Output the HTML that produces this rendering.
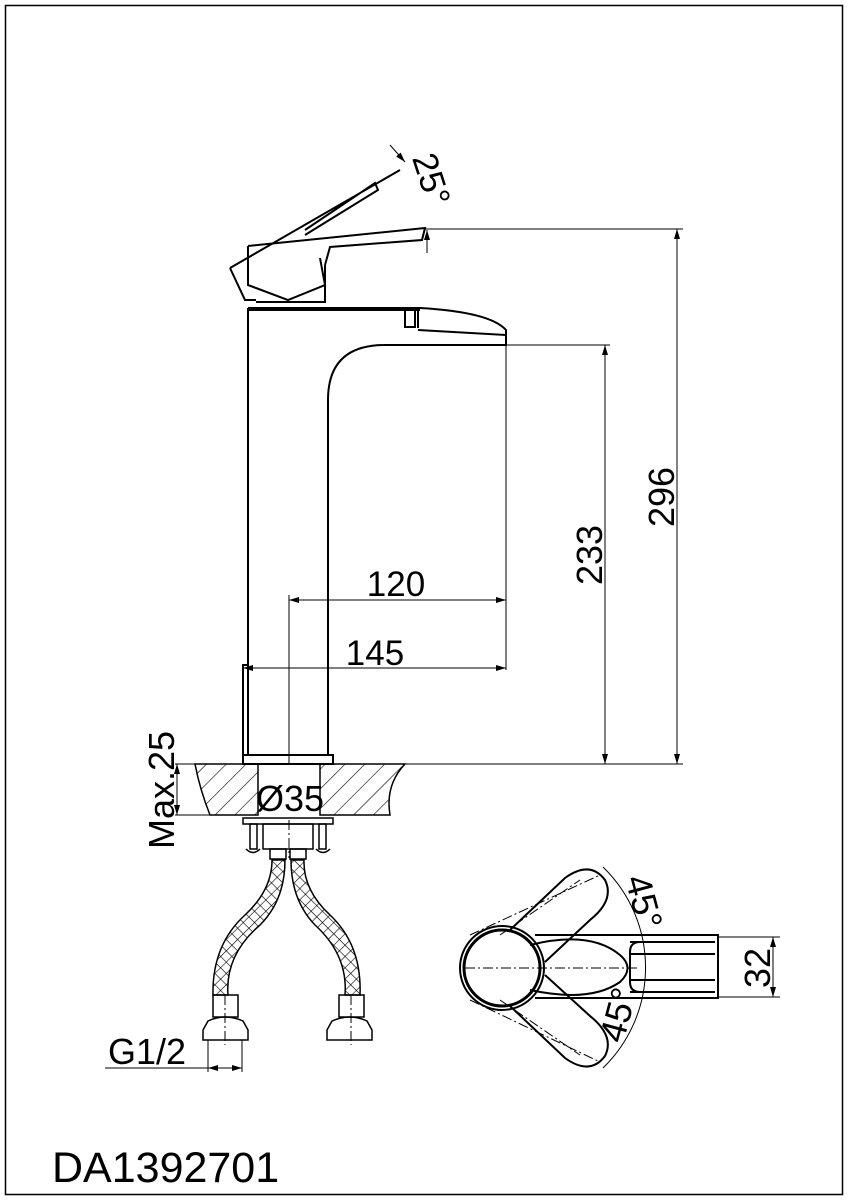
<!DOCTYPE html>
<html><head><style>html,body{margin:0;padding:0;background:#fff}svg{display:block}</style></head>
<body>
<svg width="848" height="1200" viewBox="0 0 848 1200" xmlns="http://www.w3.org/2000/svg" font-family="Liberation Sans, sans-serif">
<defs>
<marker id="a" viewBox="0 0 10 6" refX="10" refY="3" markerWidth="10" markerHeight="6" orient="auto-start-reverse" markerUnits="userSpaceOnUse"><path d="M0,0 L10,3 L0,6 z" fill="#000"/></marker>
<pattern id="h" width="14" height="14" patternUnits="userSpaceOnUse" patternTransform="rotate(45)"><line x1="0" y1="0" x2="0" y2="14" stroke="#000" stroke-width="1.2"/></pattern>
<pattern id="x" width="8" height="8" patternUnits="userSpaceOnUse" patternTransform="rotate(45)"><path d="M0,0 H8 M0,0 V8" stroke="#000" stroke-width="1.2"/></pattern>
</defs>
<rect x="5.5" y="5.5" width="837" height="1189" fill="none" stroke="#000" stroke-width="1.5"/>
<g fill="none" stroke="#000" stroke-width="2">
<path d="M248,308 V755 M328,755 V400 Q328,345 385,345 H506 V330 Q490,312 420,308 H248"/>
<line x1="248" y1="310" x2="420" y2="310"/>
<rect x="405" y="310" width="10" height="17"/>
<line x1="418" y1="308" x2="418" y2="328"/>
<line x1="418" y1="330" x2="506" y2="335"/>
<rect x="243" y="755" width="90" height="9"/>
<rect x="243" y="665" width="5" height="90"/>
<path d="M256,302 H325 V265 M248,246 L425,228 L422,240 L330,247 L325,265"/>
<path d="M248,246 V285 L288,300 L325,285 L320,258"/>
<path d="M230,268 L245,300 H256" />
<path d="M230,268 L400,170 M305,230 L375,183 L378,190 L305,235"/>
</g>
<g stroke="#000" stroke-width="1" fill="none">
<line x1="390" y1="145" x2="405" y2="162" marker-end="url(#a)"/>
<line x1="425" y1="229" x2="683" y2="229"/>
<line x1="427" y1="253" x2="427" y2="230" marker-end="url(#a)"/>
<line x1="506" y1="345" x2="610" y2="345"/>
<line x1="333" y1="764" x2="683" y2="764"/>
<line x1="677" y1="229" x2="677" y2="764" marker-start="url(#a)" marker-end="url(#a)"/>
<line x1="605" y1="345" x2="605" y2="764" marker-start="url(#a)" marker-end="url(#a)"/>
<line x1="289" y1="595" x2="289" y2="764"/>
<line x1="289" y1="600" x2="506" y2="600" marker-start="url(#a)" marker-end="url(#a)"/>
<line x1="506" y1="345" x2="506" y2="670"/>
<line x1="243" y1="668" x2="506" y2="668" marker-start="url(#a)" marker-end="url(#a)"/>
<line x1="243" y1="668" x2="243" y2="755"/>
</g>
<text x="396" y="596" font-size="35" text-anchor="middle">120</text>
<text x="375" y="665" font-size="35" text-anchor="middle">145</text>
<text transform="translate(602,555) rotate(-90)" font-size="36" text-anchor="middle">233</text>
<text transform="translate(674,497) rotate(-90)" font-size="36" text-anchor="middle">296</text>
<text transform="translate(420,183) rotate(72)" font-size="35" text-anchor="middle">25°</text>
<path d="M195,764 H258 V815 H210 Q200,790 195,764 Z M320,764 H405 Q385,785 390,815 H320 Z" fill="url(#h)" stroke="#000" stroke-width="1.5"/>
<line x1="175" y1="764" x2="258" y2="764" stroke="#000"/>
<line x1="175" y1="815" x2="258" y2="815" stroke="#000"/>
<line x1="177" y1="764" x2="177" y2="815" stroke="#000" marker-start="url(#a)" marker-end="url(#a)"/>
<text transform="translate(174,790) rotate(-90)" font-size="36" text-anchor="middle">Max.25</text>
<text x="290" y="811" font-size="36" text-anchor="middle">Ø35</text>
<g fill="none" stroke="#000" stroke-width="1.5">
<rect x="243" y="818" width="90" height="6"/>
<rect x="263" y="824" width="50" height="25"/>
<rect x="250" y="824" width="7" height="25"/><rect x="319" y="824" width="7" height="25"/>
<path d="M246,849 Q253,856 260,849 M316,849 Q323,856 330,849"/>
<rect x="270" y="849" width="16" height="10"/><rect x="290" y="849" width="16" height="10"/>
</g>
<path d="M272,860 L285,860 Q285,900 260,925 Q225,955 228,995 L213,995 Q212,945 245,915 Q272,890 272,860 Z" fill="url(#x)" stroke="#000" stroke-width="1.5"/>
<path d="M291,860 L304,860 Q303,890 330,915 Q362,945 360,995 L345,995 Q348,955 315,925 Q291,900 291,860 Z" fill="url(#x)" stroke="#000" stroke-width="1.5"/>
<g fill="none" stroke="#000" stroke-width="1.5">
<rect x="213" y="995" width="25" height="22"/><rect x="339" y="995" width="25" height="22"/>
<path d="M203,1030 L208,1021 Q225,1013 243,1021 L248,1030 V1040 H203 Z"/>
<path d="M327,1030 L332,1021 Q350,1013 367,1021 L372,1030 V1040 H327 Z"/>
</g>
<g stroke="#000" stroke-width="1" stroke-dasharray="10,3,2,3">
<line x1="225" y1="995" x2="225" y2="1045"/><line x1="351" y1="995" x2="351" y2="1045"/>
<line x1="289" y1="820" x2="289" y2="858"/>
</g>
<line x1="208" y1="1040" x2="208" y2="1072" stroke="#000"/>
<line x1="242" y1="1040" x2="242" y2="1072" stroke="#000"/>
<line x1="105" y1="1068" x2="242" y2="1068" stroke="#000"/>
<line x1="208" y1="1068" x2="242" y2="1068" stroke="#000" marker-start="url(#a)" marker-end="url(#a)"/>
<text x="108" y="1064" font-size="36">G1/2</text>
<g fill="none" stroke="#000" stroke-width="2">
<circle cx="502" cy="968" r="42"/><circle cx="502" cy="968" r="38" stroke-width="3"/>
<path d="M535,935 H718 V998 H535"/>
<path d="M630,942 H715 M630,992 H715 M630,954 H715 M630,980 H715"/>
<path d="M640,942 Q630,942 630,952 V982 Q630,992 640,992"/>
<path d="M530,945 Q590,930 620,955 Q635,968 620,982 Q590,1003 530,990"/>
<path d="M510,930 L565,878 Q590,860 605,880 Q615,900 590,920 L545,962"/>
<path d="M510,1006 L565,1058 Q590,1076 605,1056 Q615,1036 590,1016 L545,975"/>
</g>
<g stroke="#000" stroke-width="1" fill="none" stroke-dasharray="10,3,2,3">
<line x1="465" y1="968" x2="640" y2="968"/>
<line x1="470" y1="935" x2="600" y2="875"/>
<line x1="470" y1="1000" x2="600" y2="1062"/>
<line x1="500" y1="935" x2="580" y2="880"/>
<line x1="500" y1="1000" x2="580" y2="1055"/>
</g>
<path d="M603,867 A140,140 0 0 1 603,1068" fill="none" stroke="#000" stroke-width="1"/>
<line x1="718" y1="937" x2="780" y2="937" stroke="#000"/>
<line x1="718" y1="997" x2="780" y2="997" stroke="#000"/>
<line x1="773" y1="937" x2="773" y2="997" stroke="#000" marker-start="url(#a)" marker-end="url(#a)"/>
<text transform="translate(770,968) rotate(-90)" font-size="36" text-anchor="middle">32</text>
<text transform="translate(632,905) rotate(75)" font-size="36" text-anchor="middle">45°</text>
<text transform="translate(630,1018) rotate(-75)" font-size="36" text-anchor="middle">45°</text>
<text x="52" y="1182" font-size="43">DA1392701</text>
</svg>
</body></html>
